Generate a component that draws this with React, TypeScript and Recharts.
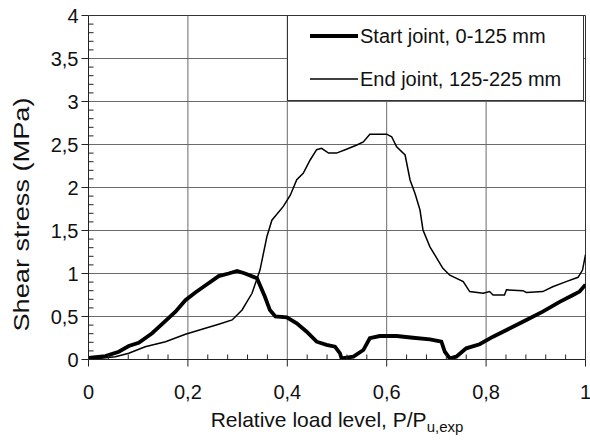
import React from 'react';
import { LineChart, Line, XAxis, YAxis, ReferenceLine, Legend } from 'recharts';

// ---- data ----
const startX = [0, 0.034, 0.061, 0.081, 0.101, 0.128, 0.155, 0.175, 0.195, 0.215, 0.235, 0.262, 0.282, 0.299, 0.315, 0.339, 0.355, 0.365, 0.376, 0.399, 0.419, 0.439, 0.459, 0.479, 0.496, 0.506, 0.509, 0.533, 0.553, 0.566, 0.586, 0.62, 0.653, 0.687, 0.71, 0.717, 0.727, 0.74, 0.76, 0.787, 0.814, 0.847, 0.881, 0.914, 0.948, 0.975, 0.988, 1.0];
const startY = [0.02, 0.04, 0.09, 0.157, 0.195, 0.305, 0.448, 0.556, 0.69, 0.78, 0.86, 0.97, 1.0, 1.03, 1.0, 0.944, 0.73, 0.575, 0.5, 0.49, 0.42, 0.323, 0.207, 0.17, 0.15, 0.072, 0.014, 0.033, 0.11, 0.247, 0.273, 0.273, 0.253, 0.235, 0.207, 0.09, 0.014, 0.033, 0.13, 0.177, 0.265, 0.36, 0.46, 0.556, 0.67, 0.75, 0.79, 0.87];

const endX = [0, 0.054, 0.081, 0.114, 0.155, 0.195, 0.235, 0.262, 0.289, 0.309, 0.329, 0.345, 0.359, 0.369, 0.392, 0.406, 0.419, 0.432, 0.446, 0.459, 0.469, 0.483, 0.499, 0.519, 0.54, 0.553, 0.566, 0.6, 0.61, 0.62, 0.637, 0.647, 0.657, 0.667, 0.673, 0.687, 0.713, 0.727, 0.754, 0.767, 0.794, 0.807, 0.814, 0.837, 0.841, 0.874, 0.881, 0.914, 0.934, 0.961, 0.985, 0.994, 1.0];
const endY = [0, 0.033, 0.072, 0.149, 0.207, 0.293, 0.363, 0.41, 0.46, 0.576, 0.77, 1.04, 1.43, 1.62, 1.78, 1.91, 2.09, 2.165, 2.32, 2.44, 2.456, 2.4, 2.4, 2.444, 2.494, 2.53, 2.62, 2.62, 2.59, 2.474, 2.378, 2.087, 1.93, 1.738, 1.506, 1.31, 1.06, 0.98, 0.905, 0.79, 0.77, 0.79, 0.75, 0.75, 0.81, 0.8, 0.78, 0.79, 0.846, 0.905, 0.956, 1.04, 1.22];

const seriesNames = ['Start joint, 0-125 mm', 'End joint, 125-225 mm'];

const xMajorTicks = [0, 0.2, 0.4, 0.6, 0.8, 1];
const xAllTicks = [0, 0.04, 0.08, 0.12, 0.16, 0.2, 0.24, 0.28, 0.32, 0.36, 0.4, 0.44, 0.48, 0.52, 0.56, 0.6, 0.64, 0.68, 0.72, 0.76, 0.8, 0.84, 0.88, 0.92, 0.96, 1];
const yMajorTicks = [0, 0.5, 1, 1.5, 2, 2.5, 3, 3.5, 4];
const yAllTicks = [0, 0.1, 0.2, 0.3, 0.4, 0.5, 0.6, 0.7, 0.8, 0.9, 1, 1.1, 1.2, 1.3, 1.4, 1.5, 1.6, 1.7, 1.8, 1.9, 2, 2.1, 2.2, 2.3, 2.4, 2.5, 2.6, 2.7, 2.8, 2.9, 3, 3.1, 3.2, 3.3, 3.4, 3.5, 3.6, 3.7, 3.8, 3.9, 4];

const xTitle = 'Relative load level, P/P';
const xTitleSub = 'u,exp';
const yTitle = 'Shear stress (MPa)';

const startData = startX.map((x, i) => ({ x, y: startY[i] }));
const endData = endX.map((x, i) => ({ x, y: endY[i] }));

const FONT = '"Liberation Sans", Arial, sans-serif';
const fmt = (v: number) => String(Math.round(v * 10) / 10).replace('.', ',');
const isIn = (arr: number[], v: number) => arr.some((m) => Math.abs(m - v) < 1e-6);

const XTick = (props: any) => {
  const { x, y, payload } = props;
  const v = payload.value;
  if (!isIn(xMajorTicks, v)) {
    return <line x1={x} x2={x} y1={y} y2={y - 5} stroke="#222" strokeWidth={1} />;
  }
  return (
    <g>
      <line x1={x} x2={x} y1={y} y2={y + 7} stroke="#222" strokeWidth={1} />
      <text x={x} y={y + 39} textAnchor="middle" fontSize={20} fontFamily={FONT} fill="#111">
        {fmt(v)}
      </text>
    </g>
  );
};

const YTick = (props: any) => {
  const { x, y, payload } = props;
  const v = payload.value;
  if (!isIn(yMajorTicks, v)) {
    return <line x1={x} x2={x + 5} y1={y} y2={y} stroke="#222" strokeWidth={1} />;
  }
  return (
    <g>
      <line x1={x - 7} x2={x} y1={y} y2={y} stroke="#222" strokeWidth={1} />
      <text x={x - 10} y={y + 7} textAnchor="end" fontSize={20} fontFamily={FONT} fill="#111">
        {fmt(v)}
      </text>
    </g>
  );
};

const XLabel = (props: any) => {
  const vb = props.viewBox || {};
  const cx = vb.x + vb.width / 2;
  return (
    <text x={cx} y={vb.y + 67} textAnchor="middle" fontSize={21} fontFamily={FONT} fill="#111">
      {xTitle}
      <tspan fontSize={15} dy={5}>{xTitleSub}</tspan>
    </text>
  );
};

const YLabel = (props: any) => {
  const vb = props.viewBox || {};
  const cy = vb.y + vb.height / 2 + 27;
  const cx = 29;
  return (
    <text
      x={cx}
      y={cy}
      transform={`rotate(-90, ${cx}, ${cy})`}
      textAnchor="middle"
      fontSize={22}
      fontFamily={FONT}
      fill="#111"
      textLength={234}
      lengthAdjust="spacingAndGlyphs"
    >
      {yTitle}
    </text>
  );
};

const LegendBox = () => (
  <div style={{ width: 297, height: 86, boxSizing: 'border-box', border: '1px solid #333', background: '#fff' }}>
    <svg width={295} height={84} style={{ display: 'block' }}>
      <line x1={22} x2={70} y1={20} y2={20} stroke="#000" strokeWidth={3.8} />
      <text x={72} y={27} fontSize={20} fontFamily={FONT} fill="#111">{seriesNames[0]}</text>
      <line x1={22} x2={70} y1={63} y2={63} stroke="#000" strokeWidth={1.5} />
      <text x={72} y={70} fontSize={20} fontFamily={FONT} fill="#111">{seriesNames[1]}</text>
    </svg>
  </div>
);

export default function App() {
  return (
    <div style={{ position: 'absolute', left: 0, top: 0, background: '#fff' }}>
      <LineChart
        width={590}
        height={442}
        margin={{ top: 15.5, right: 4.5, bottom: 22.5, left: 0.5 }}
        style={{ background: '#fff' }}
      >
        {yMajorTicks.slice(1).map((v) => (
          <ReferenceLine key={'gy' + v} y={v} stroke={v === 4 ? '#333' : '#6a6a6a'} strokeWidth={1} />
        ))}
        {xMajorTicks.slice(1).map((v) => (
          <ReferenceLine key={'gx' + v} x={v} stroke={v === 1 ? '#333' : '#6a6a6a'} strokeWidth={1} />
        ))}
        <XAxis
          type="number"
          dataKey="x"
          domain={[0, 1]}
          ticks={xAllTicks}
          interval={0}
          allowDataOverflow
          height={60}
          tickSize={0}
          tickMargin={0}
          tickLine={false}
          axisLine={{ stroke: '#222', strokeWidth: 1 }}
          tick={<XTick />}
          label={{ content: XLabel } as any}
        />
        <YAxis
          type="number"
          dataKey="y"
          domain={[0, 4]}
          ticks={yAllTicks}
          interval={0}
          allowDataOverflow
          width={88}
          tickSize={0}
          tickMargin={0}
          tickLine={false}
          axisLine={{ stroke: '#222', strokeWidth: 1 }}
          tick={<YTick />}
          label={{ content: YLabel } as any}
        />
        <Line
          data={endData}
          dataKey="y"
          name={seriesNames[1]}
          type="linear"
          stroke="#000"
          strokeWidth={1.5}
          dot={false}
          isAnimationActive={false}
        />
        <Line
          data={startData}
          dataKey="y"
          name={seriesNames[0]}
          type="linear"
          stroke="#000"
          strokeWidth={3.8}
          dot={false}
          isAnimationActive={false}
        />
        <Legend
          layout="vertical"
          align="center"
          verticalAlign="middle"
          wrapperStyle={{ position: 'absolute', left: 287, top: 15, width: 297, height: 86 }}
          content={() => <LegendBox />}
        />
      </LineChart>
    </div>
  );
}
